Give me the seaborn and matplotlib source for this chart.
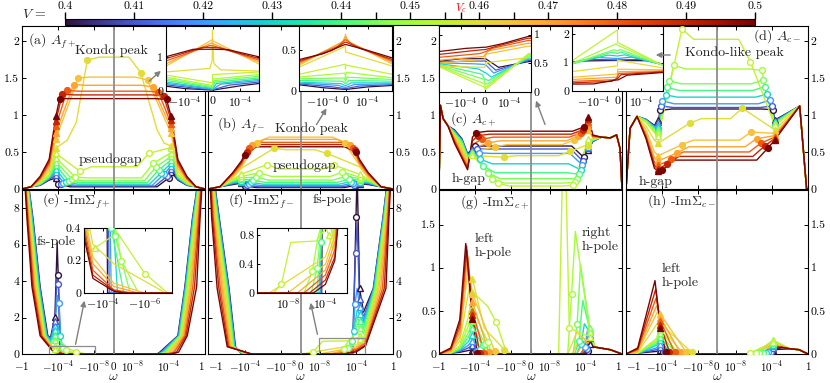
import matplotlib
matplotlib.use('Agg')
import matplotlib.pyplot as plt
import seaborn as sns
import pandas as pd
from matplotlib.colors import Normalize
from matplotlib.cm import ScalarMappable
from matplotlib.patches import Rectangle, FancyArrowPatch
from matplotlib.ticker import NullLocator

sns.set_theme(style='ticks')
plt.rcParams.update({
    'font.family': 'serif',
    'font.serif': ['cmr10', 'DejaVu Serif'],
    'mathtext.fontset': 'cm',
    'axes.unicode_minus': False,
    'axes.edgecolor': 'black',
    'axes.linewidth': 0.8,
    'xtick.color': 'black',
    'ytick.color': 'black',
})

# ---- hybridisation values (colour scale) ----
V = [0.40, 0.41, 0.42, 0.43, 0.44, 0.445, 0.45, 0.455, 0.46, 0.465, 0.47, 0.48, 0.49, 0.50]
VC = 0.4574
CB_LABELED = [0.40, 0.41, 0.42, 0.43, 0.44, 0.45, 0.46, 0.47, 0.48, 0.49, 0.50]
NB = 8  # curves below Vc

# ---- (a) A_f+ ----
A_T2 = [0.05, 0.05, 0.06, 0.06, 0.07, 0.07, 0.08, 0.09, 0.10, 0.12, 0.13, 0.14, 0.16, 0.17]
A_T3 = [0.12, 0.13, 0.14, 0.15, 0.16, 0.17, 0.18, 0.20, 0.24, 0.28, 0.31, 0.34, 0.37, 0.40]
A_TRL = [0.15, 0.19, 0.23, 0.27, 0.32, 0.37, 0.42, 0.48, 0.55, 0.68, 0.76, 0.85, 0.92, 0.98]
A_TRR = [0.23, 0.27, 0.31, 0.35, 0.39, 0.44, 0.49, 0.56, 0.58, 0.75, 0.82, 0.88, 0.93, 0.98]
A_CWL = [1e-4, 5e-5, 2.6e-5, 1.3e-5, 7e-6, 3e-6, 1.3e-6, 4e-7, 6e-8, 6e-7, 2e-6, 1e-5, 3.5e-5, 7e-5]
A_CYL = [0.07, 0.07, 0.08, 0.09, 0.11, 0.13, 0.16, 0.24, 1.74, 1.50, 1.41, 1.33, 1.28, 1.22]
A_CWR = [1e-4, 6e-5, 3e-5, 1.5e-5, 8e-6, 4e-6, 2e-6, 6e-7, 8e-8, 4.5e-7, 1.6e-6, 7e-6, 2.6e-5, 5.6e-5]
A_CYR = [0.15, 0.17, 0.20, 0.22, 0.26, 0.30, 0.35, 0.48, 1.57, 1.47, 1.38, 1.31, 1.26, 1.21]
A_MID = [0.03, 0.04, 0.05, 0.065, 0.085, 0.11, 0.15, 0.30, 1.78, 1.51, 1.40, 1.32, 1.27, 1.22]
A_KNEE = {8: [(-1e-5, 0.66), (-1e-6, 0.9), (5e-6, 0.8), (3e-5, 0.62)]}

# ---- (b) A_f- ----
B_T2 = [0.06, 0.07, 0.08, 0.09, 0.10, 0.11, 0.12, 0.13, 0.15, 0.17, 0.18, 0.20, 0.21, 0.22]
B_TRL = [0.08, 0.09, 0.10, 0.11, 0.13, 0.15, 0.17, 0.20, 0.28, 0.30, 0.32, 0.34, 0.36, 0.38]
B_TRR = [0.07, 0.08, 0.09, 0.10, 0.12, 0.14, 0.16, 0.20, 0.30, 0.32, 0.34, 0.36, 0.38, 0.40]
B_CWL = [1e-4, 5.6e-5, 3.5e-5, 2e-5, 1.3e-5, 5e-6, 2.5e-6, 3.4e-7, 6e-8, 4.4e-6, 1.5e-5, 3.5e-5, 6e-5, 1e-4]
B_CYL = [0.04, 0.05, 0.07, 0.09, 0.12, 0.16, 0.22, 0.33, 0.55, 0.62, 0.60, 0.55, 0.50, 0.46]
B_CWR = [1e-4, 6e-5, 4e-5, 2.5e-5, 1.5e-5, 6e-6, 3e-6, 4e-7, 6e-8, 5e-6, 1.8e-5, 4e-5, 7e-5, 1e-4]
B_CYR = [0.05, 0.06, 0.08, 0.10, 0.13, 0.17, 0.23, 0.32, 0.48, 0.62, 0.60, 0.56, 0.52, 0.50]
B_MID = [0.02, 0.03, 0.045, 0.065, 0.09, 0.12, 0.17, 0.27, 0.53, 0.70, 0.67, 0.63, 0.60, 0.57]

# ---- (c) A_c+ ----
C_L1 = [0.80, 0.79, 0.78, 0.77, 0.76, 0.75, 0.74, 0.73, 0.72, 0.70, 0.68, 0.66, 0.64, 0.62]
C_L2 = [0.68, 0.67, 0.66, 0.65, 0.64, 0.62, 0.60, 0.58, 0.55, 0.52, 0.48, 0.45, 0.43, 0.42]
C_GAP = [0.48, 0.47, 0.46, 0.45, 0.44, 0.43, 0.42, 0.40, 0.38, 0.36, 0.33, 0.30, 0.28, 0.26]
C_TRL = [0.53, 0.52, 0.51, 0.50, 0.49, 0.48, 0.47, 0.46, 0.45, 0.50, 0.55, 0.60, 0.65, 0.70]
C_CWL = [1e-4, 5.6e-5, 4e-5, 2.6e-5, 1.3e-5, 4e-6, 1.3e-6, 3.4e-7, 6e-8, 6e-7, 4e-6, 2e-5, 5e-5, 8e-5]
C_CYL = [0.58, 0.54, 0.49, 0.40, 0.31, 0.22, 0.14, 0.08, 0.43, 0.57, 0.62, 0.67, 0.72, 0.76]
C_MID = [0.58, 0.54, 0.48, 0.34, 0.22, 0.14, 0.08, 0.04, 0.45, 0.60, 0.65, 0.70, 0.74, 0.78]
C_CWR = [5.6e-5, 4.4e-5, 3.6e-5, 2.6e-5, 1.6e-5, 1e-5, 6e-6, 4e-6, 2e-6, 5e-6, 1.5e-5, 3e-5, 5e-5, 7e-5]
C_CYR = [0.43, 0.38, 0.33, 0.26, 0.20, 0.14, 0.09, 0.05, 0.51, 0.66, 0.72, 0.76, 0.80, 0.84]
C_TRR = [0.53, 0.55, 0.57, 0.59, 0.61, 0.63, 0.65, 0.67, 0.60, 0.80, 0.85, 0.90, 0.94, 0.97]
C_R1 = [0.64, 0.645, 0.65, 0.655, 0.66, 0.665, 0.67, 0.675, 0.68, 0.69, 0.70, 0.71, 0.72, 0.73]
C_EDGE_L = [(-1, 0), (-0.7, 1.13), (-0.35, 0.95), (-0.1, 0.85)]
C_EDGE_R = [(5e-3, 0.70), (0.05, 0.69), (0.25, 0.73), (0.6, 0.55), (1, 0)]

# ---- (d) A_c- ----
D_L1 = [0.94, 0.94, 0.93, 0.93, 0.92, 0.92, 0.91, 0.90, 0.85, 0.80, 0.75, 0.72, 0.70, 0.68]
D_GAP = [0.86, 0.85, 0.84, 0.83, 0.82, 0.80, 0.78, 0.76, 0.66, 0.50, 0.42, 0.36, 0.32, 0.28]
D_TRL = [0.93, 0.90, 0.87, 0.84, 0.81, 0.78, 0.75, 0.72, 0.62, 0.45, 0.38, 0.32, 0.27, 0.24]
D_CWL = [1.6e-4, 1.2e-4, 9e-5, 4e-5, 2.6e-5, 1.5e-5, 5e-6, 6e-7, 8e-8, 6e-7, 2e-6, 9e-6, 2.6e-5, 1e-4]
D_CYL = [1.06, 1.12, 1.19, 1.27, 1.37, 1.46, 1.67, 2.16, 0.89, 0.60, 0.49, 0.40, 0.34, 0.25]
D_MID = [1.08, 1.10, 1.15, 1.24, 1.33, 1.42, 1.62, 2.02, 0.95, 0.66, 0.57, 0.50, 0.44, 0.39]
D_CWR = [1.3e-4, 1e-4, 6e-5, 3e-5, 1.5e-5, 1e-5, 7e-6, 4e-7, 5e-8, 5e-7, 2e-6, 6e-6, 1.5e-5, 4e-5]
D_CYR = [1.07, 1.12, 1.20, 1.28, 1.38, 1.47, 1.60, 1.72, 1.09, 0.77, 0.68, 0.62, 0.58, 0.56]
D_TRR = [0.93, 0.92, 0.91, 0.90, 0.89, 0.88, 0.87, 0.86, 0.80, 0.75, 0.72, 0.70, 0.68, 0.66]
D_EDGE_L = [(-1, 0), (-0.35, 0.82), (-0.06, 0.98)]
D_EDGE_R = [(0.12, 1.12), (0.7, 0), (1, 0)]

# ---- (e) -Im Sigma_f+ ----
E_LW74 = [-0.06, -0.065, -0.07, -0.08, -0.09, -0.1, -0.11, -0.12, -0.14, -0.16, -0.18, -0.21, -0.24, -0.28]
E_LW37 = [-0.01, -0.011, -0.012, -0.014, -0.016, -0.018, -0.02, -0.023, -0.03, -0.035, -0.042, -0.052, -0.065, -0.08]
E_LW10 = [-1.4e-3, -1.6e-3, -1.8e-3, -2e-3, -2.3e-3, -2.6e-3, -3e-3, -3.5e-3, -4e-3, -4.5e-3, -5.5e-3, -6.5e-3, -8e-3, -1e-2]
E_DIP = [0.9, 0.85, 0.8, 0.7, 0.6, 0.5, 0.35, 0.25]
E_TRI = [2.05, 1.8, 1.55, 1.3, 1.05, 0.75, 0.45, 0.28]
E_PW = [-1.3e-4, -1.25e-4, -1.2e-4, -1.1e-4, -9e-5, -6e-5, -3e-5, -2e-5]
E_PK = [6.1, 4.6, 3.2, 1.6, 1.1, 0.75, 0.45, 0.37]
E_CW = [-1e-4, -9.5e-5, -8.5e-5, -6e-5, -4e-5, -2.6e-5, -1.3e-5, -1e-6]
E_CY = [4.35, 3.85, 2.8, 1.0, 0.4, 0.35, 0.2, 0.12]
E_Z = [-6e-5, -5e-5, -4e-5, -2e-5, -1e-5, -5e-6, -2e-6, -8e-8, -1e-7, -1e-6, -2e-6, -4e-6, -6e-6, -1e-5]
E_R3 = [0.3, 0.22, 0.18, 0.14, 0.11, 0.09]
E_R35 = [0.18, 0.06, 0.04, 0.02, 0.015, 0.01]
E_R0 = [5e-6, 6e-6, 7e-6, 8e-6, 9e-6, 1e-5, 1.2e-5, 1.5e-5, 2e-5, 3e-5, 5e-5, 8e-5, 1.2e-4, 2e-4]
E_RW01 = [1e-5, 1.3e-5, 1.7e-5, 2.2e-5, 3e-5, 4e-5, 5e-5, 7e-5, 1e-4, 1.5e-4, 2.5e-4, 4e-4, 7e-4, 1.2e-3]
E_RW1 = [1e-3, 1.1e-3, 1.2e-3, 1.4e-3, 1.6e-3, 1.8e-3, 2e-3, 2.4e-3, 3e-3, 3.6e-3, 4.5e-3, 6e-3, 8e-3, 1.1e-2]
E_RW37 = [6e-3, 6.5e-3, 7e-3, 8e-3, 9e-3, 1e-2, 1.2e-2, 1.4e-2, 1.8e-2, 2.3e-2, 3e-2, 4.5e-2, 7e-2, 0.12]
E_RW74 = [0.04, 0.043, 0.047, 0.052, 0.058, 0.065, 0.075, 0.085, 0.1, 0.12, 0.15, 0.19, 0.23, 0.28]

# ---- (f) -Im Sigma_f- ----
F_LW75 = [-0.06, -0.065, -0.07, -0.08, -0.09, -0.1, -0.11, -0.12, -0.15, -0.18, -0.22, -0.27, -0.33, -0.4]
F_LW36 = [-5e-3, -5.5e-3, -6e-3, -7e-3, -8e-3, -9e-3, -1e-2, -1.2e-2, -1.6e-2, -2.2e-2, -3e-2, -4.5e-2, -6.5e-2, -0.1]
F_LW04 = [-1e-3, -1.1e-3, -1.2e-3, -1.3e-3, -1.5e-3, -1.7e-3, -2e-3, -2.3e-3, -2.7e-3, -3.2e-3, -4e-3, -5e-3, -6.5e-3, -8e-3]
F_LW0 = [-2e-4, -1.8e-4, -1.6e-4, -1.4e-4, -1.2e-4, -1e-4, -8e-5, -6e-5, -5e-5, -4e-5, -3e-5, -2.5e-5, -2e-5, -1.5e-5]
F_Z0 = [4e-5, 3.5e-5, 3e-5, 2e-5, 1.2e-5, 3e-6, 5e-7, 5e-10, 1e-10, 1e-8, 1e-7, 5e-7, 2e-6, 5e-6]
F_CW = [9e-5, 8e-5, 7e-5, 5e-5, 3.5e-5, 1.3e-5, 4e-6, 2e-9]
F_CY = [7.5, 5.55, 2.75, 1.25, 0.7, 0.34, 0.3, 0.12]
F_PK = [10.0, 7.2, 3.6, 2.4, 2.0, 1.6, 1.2, 0.9]
F_TRI = [3.6, 3.0, 2.6, 2.2, 1.8, 1.4, 1.0, 0.8]
F_DIP = [2.3, 2.0, 1.8, 1.6, 1.4, 1.1, 0.8, 0.6]
F_KNEE = {6: [(1.5e-5, 0.75)], 7: [(2e-8, 0.7), (1e-5, 0.72)]}
F_R4 = [0.5, 0.4, 0.32, 0.25, 0.18, 0.12]
F_R3 = [0.9, 0.8, 0.7, 0.6, 0.5, 0.45]
F_RW36 = [7e-3, 7.5e-3, 8e-3, 9e-3, 1e-2, 1.2e-2, 1.4e-2, 1.7e-2, 2.2e-2, 3e-2, 4.5e-2, 7e-2, 0.11, 0.17]
F_RW75 = [0.08, 0.085, 0.09, 0.1, 0.11, 0.12, 0.13, 0.15, 0.17, 0.2, 0.23, 0.27, 0.31, 0.36]

# ---- (g) -Im Sigma_c+ ----
G_B1 = [0.01, 0.01, 0.01, 0.01, 0.01, 0.01, 0.01, 0.01, 0.02, 0.03, 0.04, 0.05, 0.06, 0.07]
G_B2 = [0.02, 0.03, 0.04, 0.05, 0.06, 0.07, 0.08, 0.10, 0.15, 0.20, 0.25, 0.30, 0.35, 0.40]
G_PW = [-6e-4, -6e-4, -6e-4, -6e-4, -6e-4, -6e-4, -6e-4, -6e-4, -4e-4, -6e-4, -7e-4, -8e-4, -9e-4, -1.1e-3]
G_PK = [0.04, 0.07, 0.10, 0.14, 0.19, 0.24, 0.32, 0.42, 0.80, 1.00, 1.12, 1.20, 1.25, 1.28]
G_TRI = [0.05, 0.10, 0.15, 0.22, 0.30, 0.38, 0.52, 0.72, 0.87, 0.70, 0.60, 0.50, 0.45, 0.40]
G_CW = [-1.2e-4, -8e-5, -5.6e-5, -3e-5, -1.5e-5, -8e-6, -4e-6, -5e-7, -6e-8, -7e-7, -3e-6, -1e-5, -3e-5, -6e-5]
G_CY = [0.02, 0.03, 0.04, 0.06, 0.10, 0.12, 0.14, 0.37, 0.05, 0.03, 0.02, 0.015, 0.01, 0.01]
G_Z = [-6e-5, -4e-5, -2.5e-5, -1.2e-5, -6e-6, -3e-6, -1.5e-6, -3e-8, -1e-8, -1e-7, -5e-7, -2e-6, -6e-6, -1.2e-5]
G_KNEE = {7: [(-4e-6, 0.55)], 8: [(-1e-5, 0.3)]}
G_RZ = [6e-5, 4e-5, 2.5e-5, 1e-5, 6e-6, 4e-6, 1e-6, 1e-7, 1e-6, 3e-6, 1e-5, 3e-5, 5e-5, 8e-5]
G_RCW = [1.6e-4, 1.3e-4, 8e-5, 3e-5, 1.8e-5, 1.1e-5, 2.7e-6, 1.5e-6]
G_RCY = [0.04, 0.06, 0.08, 0.12, 0.15, 0.35, 0.70, 0.30]
G_RPW = [2e-4, 1.8e-4, 1.5e-4, 7e-5, 4.5e-5, 2.6e-5, 7e-6, 4e-7]
G_RPY = [0.18, 0.22, 0.27, 0.35, 0.62, 1.03, 1.42, 3.0]
G_RT = [0.12, 0.18, 0.22, 0.25, 0.28, 0.30, 0.25, 0.20]
G_RBW = [1e-5, 3e-5, 6e-5, 1e-4, 1.5e-4, 2e-4]
G_RBY = [0.25, 0.20, 0.15, 0.10, 0.09, 0.08]
G_EDGE_R = [(1e-3, 0.08), (0.05, 0.05), (1, 0)]

# ---- (h) -Im Sigma_c- ----
H_B1 = [0.01, 0.01, 0.01, 0.01, 0.01, 0.01, 0.01, 0.01, 0.02, 0.03, 0.04, 0.05, 0.06, 0.07]
H_PW = [-4e-4, -4e-4, -4e-4, -4e-4, -4e-4, -4e-4, -4e-4, -4e-4, -3e-4, -3.5e-4, -4e-4, -4.5e-4, -5e-4, -6e-4]
H_PK = [0.03, 0.05, 0.07, 0.10, 0.12, 0.14, 0.16, 0.18, 0.36, 0.48, 0.56, 0.65, 0.75, 0.85]
H_TRI = [0.05, 0.08, 0.12, 0.16, 0.20, 0.24, 0.28, 0.32, 0.35, 0.46, 0.42, 0.38, 0.34, 0.30]
H_CW = [-8e-5, -5e-5, -3e-5, -1.5e-5, -8e-6, -4e-6, -2e-6, -6e-7, -5e-8, -2e-7, -1e-6, -4e-6, -1.5e-5, -4e-5]
H_CY = [0.02, 0.02, 0.02, 0.02, 0.02, 0.02, 0.02, 0.02, 0.02, 0.02, 0.02, 0.02, 0.02, 0.02]
H_Z = [-4e-5, -2.5e-5, -1.5e-5, -7e-6, -4e-6, -2e-6, -1e-6, -2e-7, -1e-8, -5e-8, -3e-7, -1e-6, -5e-6, -1.5e-5]
H_RZ = [5e-5, 3e-5, 1.5e-5, 8e-6, 4e-6, 1.5e-6, 5e-7, 1e-7, 3e-7, 1e-6, 4e-6, 1e-5, 2e-5, 4e-5]
H_RCW = [1e-4, 7e-5, 4e-5, 2e-5, 1e-5, 4e-6, 1.5e-6, 4e-7]
H_RCY = [0.03, 0.02, 0.02, 0.01, 0.01, 0.01, 0.01, 0.01]
H_RT = [0.05, 0.07, 0.09, 0.11, 0.13, 0.15, 0.16, 0.14]
H_RBW = [1.3e-4, 1.5e-4, 2e-4, 3e-4, 5e-4, 1e-3]
H_RBY = [0.13, 0.12, 0.10, 0.09, 0.08, 0.08]
H_EDGE_R = [(1e-2, 0.06), (0.1, 0.05), (1, 0)]

CMAP = plt.get_cmap('turbo')
NORM = Normalize(0.40, 0.50)
PAL = {v: CMAP(NORM(v)) for v in V}


def nodes_a(i):
    p = [(-1, 0), (-0.1, 0.03), (-1e-2, A_T2[i]), (-1e-3, A_T3[i]), (-1.8e-4, A_TRL[i]),
         (-A_CWL[i], A_CYL[i]), (-A_CWL[i] / 20, A_MID[i]), (0, A_MID[i]),
         (A_CWR[i] / 20, A_MID[i]), (A_CWR[i], A_CYR[i]), (1.8e-4, A_TRR[i]),
         (1e-3, A_T3[i]), (1e-2, A_T2[i]), (0.1, 0.03), (1, 0)] + A_KNEE.get(i, [])
    m = [(-1.8e-4, A_TRL[i], '^'), (-A_CWL[i], A_CYL[i], 'o'),
         (A_CWR[i], A_CYR[i], 'o'), (1.8e-4, A_TRR[i], '^')]
    return p, m


def nodes_b(i):
    p = [(-1, 0), (-0.05, 0.03), (-2e-3, B_T2[i]), (-2.2e-4, B_TRL[i]),
         (-B_CWL[i], B_CYL[i]), (-B_CWL[i] / 20, B_MID[i]), (0, B_MID[i]),
         (B_CWR[i] / 20, B_MID[i]), (B_CWR[i], B_CYR[i]), (2.2e-4, B_TRR[i]),
         (2e-3, B_T2[i]), (0.05, 0.03), (1, 0)]
    m = [(-B_CWL[i], B_CYL[i], 'o'), (B_CWR[i], B_CYR[i], 'o')]
    if i < NB:
        m += [(-2.2e-4, B_TRL[i], '^'), (2.2e-4, B_TRR[i], '^')]
    return p, m


def nodes_c(i):
    p = C_EDGE_L + [(-2e-2, C_L1[i]), (-3e-3, C_L2[i]), (-7e-4, C_GAP[i]), (-2e-4, C_TRL[i]),
                    (-C_CWL[i], C_CYL[i]), (-C_CWL[i] / 20, C_MID[i]), (0, C_MID[i]),
                    (C_CWR[i] / 20, C_MID[i]), (C_CWR[i], C_CYR[i]), (1.8e-4, C_TRR[i]),
                    (6e-4, C_R1[i])] + C_EDGE_R
    m = [(-C_CWL[i], C_CYL[i], 'o'), (C_CWR[i], C_CYR[i], 'o'), (1.8e-4, C_TRR[i], '^')]
    if i < NB:
        m += [(-2e-4, C_TRL[i], '^')]
    return p, m


def nodes_d(i):
    p = D_EDGE_L + [(-6e-3, D_L1[i]), (-7e-4, D_GAP[i]), (-2.5e-4, D_TRL[i]),
                    (-D_CWL[i], D_CYL[i]), (-D_CWL[i] / 20, D_MID[i]), (0, D_MID[i]),
                    (D_CWR[i] / 20, D_MID[i]), (D_CWR[i], D_CYR[i]), (2e-4, D_TRR[i])] + D_EDGE_R
    m = [(-2.5e-4, D_TRL[i], '^'), (-D_CWL[i], D_CYL[i], 'o'),
         (D_CWR[i], D_CYR[i], 'o'), (2e-4, D_TRR[i], '^')]
    return p, m


def nodes_e(i):
    p = [(-1, 12), (E_LW74[i], 7.4), (E_LW37[i], 3.7), (E_LW10[i], 1.0), (E_Z[i], 0), (0, 0),
         (E_R0[i], 0), (E_RW01[i], 0.1), (E_RW1[i], 1.0), (E_RW37[i], 3.7), (E_RW74[i], 7.4), (1, 12)]
    m = []
    if i < NB:
        p += [(-7e-4, E_DIP[i]), (-2.3e-4, E_TRI[i]), (E_PW[i], E_PK[i]), (E_CW[i], E_CY[i])]
        m = [(-2.3e-4, E_TRI[i], '^'), (E_CW[i], E_CY[i], 'o')]
    else:
        p += [(-3e-4, E_R3[i - NB]), (-3e-5, E_R35[i - NB])]
    return p, m


def nodes_f(i):
    p = [(-1, 12), (F_LW75[i], 7.5), (F_LW36[i], 3.6), (F_LW04[i], 0.4), (F_LW0[i], 0), (0, 0),
         (F_Z0[i], 0), (F_RW36[i], 3.6), (F_RW75[i], 7.5), (1, 12)]
    m = []
    if i < NB:
        p += [(F_CW[i], F_CY[i]), (1.2e-4, F_PK[i]), (2.2e-4, F_TRI[i]), (6e-4, F_DIP[i])]
        p += F_KNEE.get(i, [])
        m = [(F_CW[i], F_CY[i], 'o'), (2.2e-4, F_TRI[i], '^')]
    else:
        p += [(1e-4, F_R4[i - NB]), (1e-3, F_R3[i - NB])]
    return p, m


def nodes_g(i):
    p = [(-1, 0), (-0.05, G_B1[i]), (-5e-3, G_B2[i]), (G_PW[i], G_PK[i]), (-2e-4, G_TRI[i]),
         (G_CW[i], G_CY[i]), (G_Z[i], 0), (0, 0), (G_RZ[i], 0)] + G_KNEE.get(i, []) + G_EDGE_R
    m = [(-2e-4, G_TRI[i], '^'), (G_CW[i], G_CY[i], 'o')]
    if i < NB:
        p += [(G_RCW[i], G_RCY[i]), (G_RPW[i], G_RPY[i]), (2.8e-4, G_RT[i])]
        m += [(G_RCW[i], G_RCY[i], 'o'), (2.8e-4, G_RT[i], '^')]
    else:
        p += [(G_RBW[i - NB], G_RBY[i - NB])]
    return p, m


def nodes_h(i):
    p = [(-1, 0), (-0.05, H_B1[i]), (H_PW[i], H_PK[i]), (-1.5e-4, H_TRI[i]),
         (H_CW[i], H_CY[i]), (H_Z[i], 0), (0, 0), (H_RZ[i], 0)] + H_EDGE_R
    m = [(-1.5e-4, H_TRI[i], '^'), (H_CW[i], H_CY[i], 'o')]
    if i < NB:
        p += [(H_RCW[i], H_RCY[i]), (1.3e-4, H_RT[i])]
        m += [(H_RCW[i], H_RCY[i], 'o'), (1.3e-4, H_RT[i], '^')]
    else:
        p += [(H_RBW[i - NB], H_RBY[i - NB])]
    return p, m


def draw(ax, builder, marks=True, lw=1.0):
    rows, allm = [], []
    for i, v in enumerate(V):
        p, m = builder(i)
        rows += [(v, w, y) for w, y in sorted(p)]
        allm += [(v, w, y, s) for w, y, s in m]
    df = pd.DataFrame(rows, columns=['V', 'w', 'y'])
    sns.lineplot(data=df, x='w', y='y', hue='V', palette=PAL, sort=False,
                 estimator=None, legend=False, lw=lw, ax=ax)
    ax.set_xlabel('')
    ax.set_ylabel('')
    if marks:
        for v, w, y, s in allm:
            c = PAL[v]
            ax.plot(w, y, s, ms=4.2 if s == 'o' else 4.6, mec=c,
                    mfc=c if v > VC else 'white', mew=1.0, zorder=4)


W, H = 830, 383
fig = plt.figure(figsize=(W / 100, H / 100), dpi=100)


def fax(x0, y0, x1, y1):
    return fig.add_axes([x0 / W, 1 - y1 / H, (x1 - x0) / W, (y1 - y0) / H])


def fx(x, y):
    return (x / W, 1 - y / H)


XT = [-1, -1e-4, -1e-8, 0, 1e-8, 1e-4, 1]
XTL = ['$-1$', '$-10^{-4}$', '$-10^{-8}$', '$0$', '$10^{-8}$', '$10^{-4}$', '$1$']
YT_TOP = [0, 0.5, 1, 1.5, 2]
YT_EF = [0, 2, 4, 6, 8]
YT_GH = [0, 0.5, 1, 1.5]


def style(ax, ylim, yt, right=False, bottom=False):
    ax.set_xscale('symlog', linthresh=1e-9, linscale=1)
    ax.set_xlim(-1, 1)
    ax.set_ylim(*ylim)
    ax.set_xticks(XT)
    ax.set_xticklabels(XTL if bottom else [''] * len(XT))
    ax.xaxis.set_minor_locator(NullLocator())
    ax.set_yticks(yt)
    ax.set_yticklabels([f'{t:g}' for t in yt])
    ax.tick_params(direction='in', top=True, right=True, length=3, width=0.7,
                   labelsize=8.5, pad=2)
    ax.tick_params(axis='x', pad=4, labelsize=8)
    if right:
        ax.tick_params(labelleft=False, labelright=True)
    ax.axvline(0, color='#8c8c8c', lw=1.3, zorder=2.5)


main = [
    ('a', (22, 26, 205, 189), nodes_a, (0, 2.2), YT_TOP, False, False),
    ('b', (208, 26, 393, 189), nodes_b, (0, 2.2), YT_TOP, True, False),
    ('c', (439, 26, 622, 189), nodes_c, (0, 2.2), YT_TOP, False, False),
    ('d', (626, 26, 808, 189), nodes_d, (0, 2.2), YT_TOP, True, False),
    ('e', (22, 190, 205, 354), nodes_e, (0, 9), YT_EF, False, True),
    ('f', (208, 190, 393, 354), nodes_f, (0, 9), YT_EF, True, True),
    ('g', (439, 190, 622, 354), nodes_g, (0, 1.9), YT_GH, False, True),
    ('h', (626, 190, 808, 354), nodes_h, (0, 1.9), YT_GH, True, True),
]
axs = {}
for key, box, builder, ylim, yt, right, bottom in main:
    ax = fax(*box)
    draw(ax, builder)
    style(ax, ylim, yt, right, bottom)
    axs[key] = ax

# neighbouring end labels of the bottom row are pushed apart
for key in 'eg':
    axs[key].get_xticklabels()[-1].set_horizontalalignment('right')
for key in 'fh':
    axs[key].get_xticklabels()[0].set_horizontalalignment('left')

# zoom rectangles
axs['e'].add_patch(Rectangle((-1e-3, 0), 1e-3 - 9e-9, 0.45, fill=False, ec='#8c8c8c', lw=0.9, zorder=5))
axs['f'].add_patch(Rectangle((8e-9, 0), 8e-4, 0.9, fill=False, ec='#8c8c8c', lw=0.9, zorder=5))

# ---- insets ----
LIN_T = [-1e-4, 0, 1e-4]
LIN_L = ['$-10^{-4}$', '$0$', '$10^{-4}$']
insets = [
    ((166, 26, 259, 91), nodes_a, (-1.7e-4, 1.7e-4), (0, 1.9), LIN_T, LIN_L, [0, 1], False, False),
    ((299, 26, 392, 91), nodes_b, (-2.1e-4, 2.1e-4), (0, 0.8), LIN_T, LIN_L, [0, 0.5], False, False),
    ((439, 26, 531, 92), nodes_c, (-1.9e-4, 1.9e-4), (0, 1.15), LIN_T, LIN_L, [0, 0.5, 1], True, False),
    ((572, 26, 663, 91), nodes_d, (-1.9e-4, 1.9e-4), (0, 2.3), LIN_T, LIN_L, [0, 1, 2], False, False),
    ((84, 228, 172, 293), nodes_e, (-8e-4, -5e-8), (0, 0.4), [-1e-4, -1e-6],
     ['$-10^{-4}$', '$-10^{-6}$'], [0, 0.2, 0.4], False, True),
    ((257, 228, 347, 293), nodes_f, (-1.2e-9, 2e-2), (0, 0.9), [1e-8, 1e-4],
     ['$10^{-8}$', '$10^{-4}$'], [0, 0.4, 0.8], False, True),
]
for box, builder, xl, yl, xt, xtl, yt, yright, logx in insets:
    ax = fax(*box)
    if logx:
        ax.set_xscale('symlog', linthresh=1e-9, linscale=1)
    draw(ax, builder, marks=logx, lw=0.9)
    ax.set_xlim(*xl)
    ax.set_ylim(*yl)
    ax.set_xticks(xt)
    ax.set_xticklabels(xtl)
    ax.xaxis.set_minor_locator(NullLocator())
    ax.set_yticks(yt)
    ax.set_yticklabels([f'{t:g}' for t in yt])
    ax.tick_params(direction='in', top=True, right=True, length=2.5, width=0.7,
                   labelsize=8.5, pad=2)
    if yright:
        ax.tick_params(labelleft=False, labelright=True)
    ax.set_facecolor('white')

# ---- annotations ----
TXT = dict(fontsize=10, va='center')
notes = [
    (28, 41, r'(a) $A_{f+}$', 'left'), (111, 51, 'Kondo peak', 'center'),
    (110, 160, 'pseudogap', 'center'), (217, 125, r'(b) $A_{f-}$', 'left'),
    (311, 129, 'Kondo peak', 'center'), (304, 166, 'pseudogap', 'center'),
    (450, 119, r'(c) $A_{c+}$', 'left'), (469, 179, 'h-gap', 'center'),
    (753, 36, r'(d) $A_{c-}$', 'left'), (734, 53, 'Kondo-like peak', 'center'),
    (656, 182, 'h-gap', 'center'), (42, 201, r'(e) -Im$\Sigma_{f+}$', 'left'),
    (56, 242, 'fs-pole', 'center'), (228, 201, r'(f) -Im$\Sigma_{f-}$', 'left'),
    (332, 200, 'fs-pole', 'center'), (460, 202, r'(g) -Im$\Sigma_{c+}$', 'left'),
    (475, 246, 'left\nh-pole', 'left'), (582, 240, 'right\nh-pole', 'left'),
    (647, 201, r'(h) -Im$\Sigma_{c-}$', 'left'), (662, 276, 'left\nh-pole', 'left'),
]
for x, y, s, ha in notes:
    fig.text(*fx(x, y), s, ha=ha, linespacing=1.25, **TXT)
for x in [113, 300, 531, 717]:
    fig.text(*fx(x, 377), r'$\omega$', ha='center', fontsize=10, va='center')

arrows = [((147, 83), (163, 69)), ((315, 127), (328, 106)), ((546, 127), (535, 98)),
          ((673, 55), (653, 55)), ((75, 347), (85, 298)), ((318, 337), (310, 300))]
for start, end in arrows:
    fig.add_artist(FancyArrowPatch(fx(*start), fx(*end), transform=fig.transFigure,
                                   arrowstyle='-|>', mutation_scale=8, color='#808080', lw=1.0))

# ---- colour bar ----
CB_X0, CB_X1 = 65, 755
cax = fax(CB_X0, 19, CB_X1, 25)
cb = fig.colorbar(ScalarMappable(norm=NORM, cmap=CMAP), cax=cax,
                  orientation='horizontal', ticklocation='top')
ticks = sorted(V + [VC])
labels = [f'{t:g}' if t in CB_LABELED else '' for t in ticks]
cb.set_ticks(ticks)
cb.set_ticklabels(labels)
cax.tick_params(axis='x', direction='out', length=5, width=1.0, labelsize=8.5, pad=0.5)
cax.xaxis.set_minor_locator(NullLocator())
cb.outline.set_linewidth(0.8)
for t, tk in zip(ticks, cax.xaxis.get_major_ticks()):
    tk.tick1line.set_color('red' if t == VC else CMAP(NORM(t)))
    tk.tick2line.set_color('red' if t == VC else CMAP(NORM(t)))
# the critical value is labelled in red above its tick
vc_x = CB_X0 + (VC - 0.40) / 0.10 * (CB_X1 - CB_X0)
fig.text(*fx(vc_x, 8), '$V_c$', color='red', fontsize=8, ha='center', va='center')
fig.text(*fx(22, 15), r'$V\,=$', fontsize=10, va='center', ha='left')

fig.savefig('out.png', dpi=100)
